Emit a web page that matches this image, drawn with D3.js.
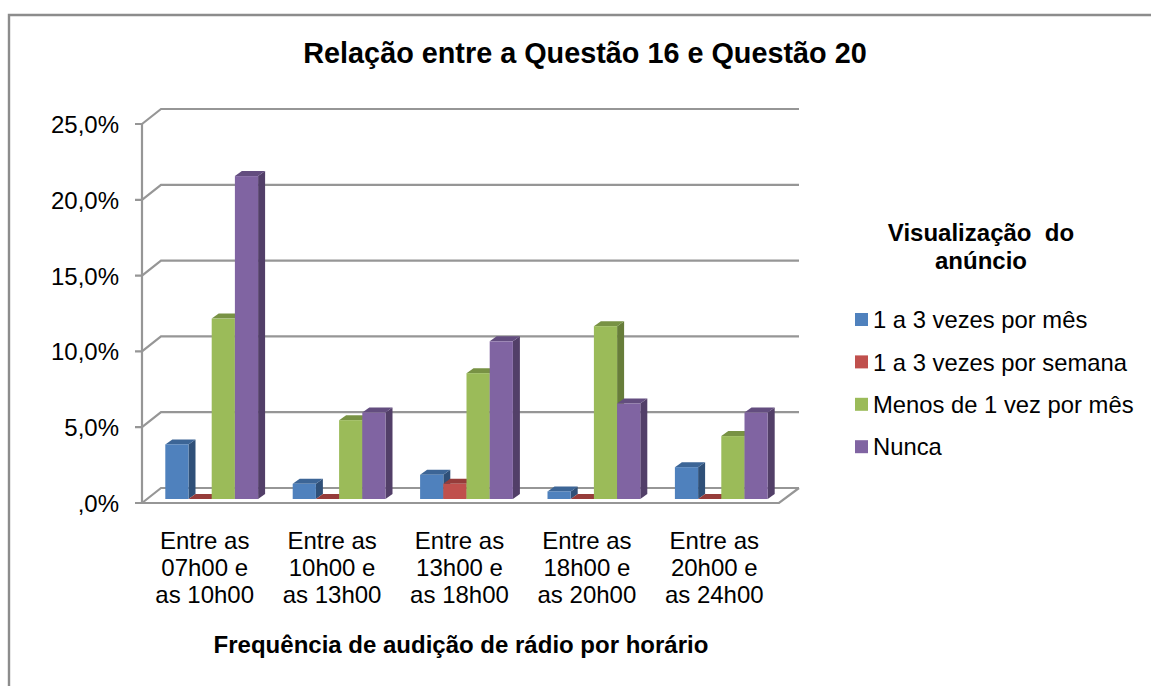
<!DOCTYPE html>
<html><head><meta charset="utf-8">
<script src="https://cdn.jsdelivr.net/npm/d3@7"></script>
<style>html,body{margin:0;padding:0;background:#fff}svg{display:block}text{font-family:"Liberation Sans",Arial,sans-serif;fill:#000}</style>
</head><body><svg width="1151" height="686"></svg>
<script>
const titleText = "Relação entre a Questão 16 e Questão 20";
const xTitle = "Frequência de audição de rádio por horário";
const legendTitle = ["Visualização  do", "anúncio"];
const categories = [["Entre as","07h00 e","as 10h00"],["Entre as","10h00 e","as 13h00"],["Entre as","13h00 e","as 18h00"],["Entre as","18h00 e","as 20h00"],["Entre as","20h00 e","as 24h00"]];
const seriesNames = ["1 a 3 vezes por mês","1 a 3 vezes por semana","Menos de 1 vez por mês","Nunca"];
const s1 = [3.6,1.0,1.6,0.5,2.1];
const s2 = [0,0,1.0,0,0];
const s3 = [11.9,5.2,8.3,11.4,4.15];
const s4 = [21.3,5.7,10.4,6.3,5.7];
const yTicks = [0,5,10,15,20,25];
const yLabels = [",0%","5,0%","10,0%","15,0%","20,0%","25,0%"];
const fronts = ["#4f81bd","#c0504d","#9bbb59","#8064a2"];
const tops = ["#3c6596","#963c3a","#789244","#634d7f"];
const sides = ["#2f5078","#772f2d","#677d3a","#523f68"];

const svg = d3.select("svg");
const DX = 19, DY = 15, BDX = 7, BDY = 5;
const y = d3.scaleLinear().domain([0,25]).range([503,124]);
const yBar = v => y(v) - 4;
const x = d3.scaleBand().domain(d3.range(5)).range([142,779]);
const barW = 23.2;
const gx = i => x(i) + x.bandwidth()/2 - 2*barW + 6;

svg.append("path").attr("d","M9,686V15H1151").attr("fill","none").attr("stroke","#8c8c8c").attr("stroke-width",2.4);

const grid = "#969696";
const g = svg.append("g").attr("fill","none").attr("stroke",grid).attr("stroke-width",2.2);
yTicks.forEach(t=>{
  const py = y(t);
  g.append("path").attr("d",`M135,${py}H142L${142+DX},${py-DY}H799`);
});
g.append("path").attr("d",`M142,${y(25)}V${y(0)}H779L799,${y(0)-DY}`);

const marks = svg.append("g");
[s1,s2,s3,s4].forEach((vals,si)=>{
  const layer = marks.append("g");
  vals.forEach((v,i)=>{
    const x0 = gx(i)+si*barW, x1 = x0+barW, yt = yBar(v), yb = yBar(0);
    layer.append("path").attr("fill",sides[si]).attr("d",`M${x1},${yt}L${x1+BDX},${yt-BDY}V${yb-BDY}L${x1},${yb}Z`);
    layer.append("path").attr("fill",tops[si]).attr("d",`M${x0},${yt}L${x0+BDX},${yt-BDY}H${x1+BDX}L${x1},${yt}Z`);
    if(v>0) layer.append("rect").attr("x",x0).attr("y",yt).attr("width",barW).attr("height",yb-yt).attr("fill",fronts[si]);
  });
});

yTicks.forEach((t,i)=>{
  svg.append("text").attr("x",119).attr("y",y(t)+9).attr("text-anchor","end").attr("font-size",24).text(yLabels[i]);
});
categories.forEach((c,i)=>{
  c.forEach((l,j)=>{
    svg.append("text").attr("x",x(i)+x.bandwidth()/2-1).attr("y",548.5+j*27.3).attr("text-anchor","middle").attr("font-size",24).text(l);
  });
});
svg.append("text").attr("x",585).attr("y",63).attr("text-anchor","middle").attr("font-size",28.8).attr("font-weight","bold").text(titleText);
svg.append("text").attr("x",461).attr("y",653).attr("text-anchor","middle").attr("font-size",24).attr("font-weight","bold").text(xTitle);
legendTitle.forEach((l,j)=>{
  svg.append("text").attr("x",981).attr("y",241+j*28).attr("text-anchor","middle").attr("font-size",24).attr("font-weight","bold").style("white-space","pre").text(l);
});
seriesNames.forEach((n,i)=>{
  const ly = 313+i*42.4;
  svg.append("rect").attr("x",855).attr("y",ly).attr("width",13).attr("height",13).attr("fill",fronts[i]);
  svg.append("text").attr("x",873).attr("y",328.3+i*42.3).attr("font-size",23.8).text(n);
});
</script></body></html>
